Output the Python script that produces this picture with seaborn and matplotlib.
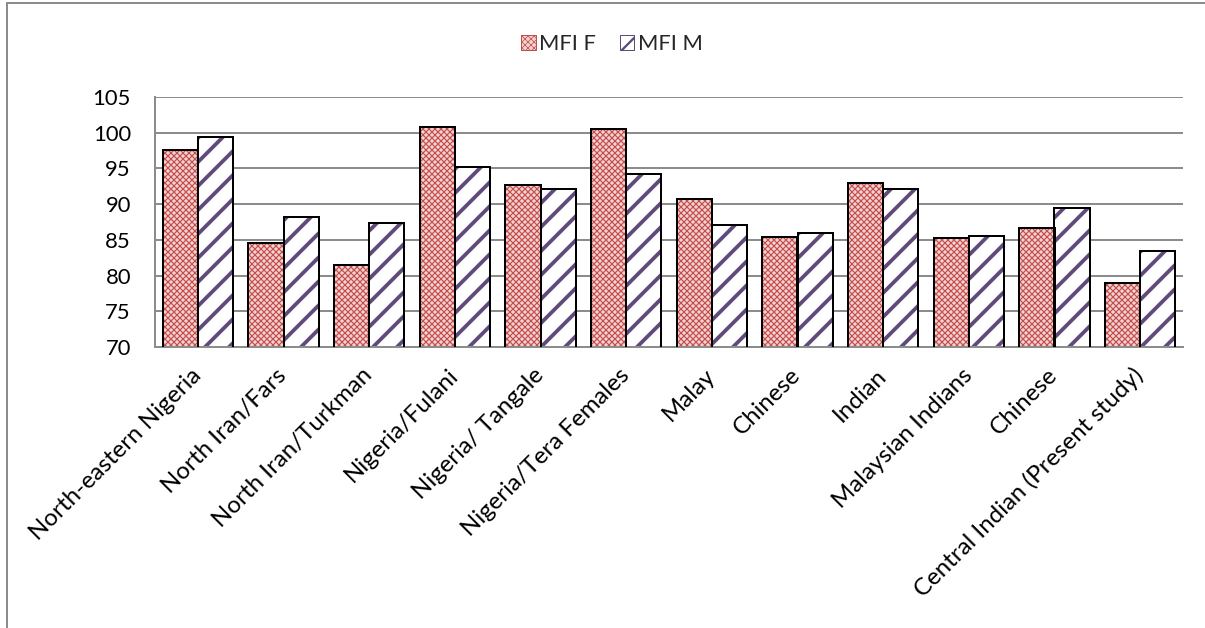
import matplotlib
matplotlib.use("Agg")
import matplotlib.pyplot as plt
from matplotlib.patches import Rectangle, Patch
from matplotlib.lines import Line2D
from matplotlib.ticker import MultipleLocator
import seaborn as sns
import pandas as pd

# Mean facial index by population
populations = [
    "North-eastern Nigeria", "North Iran/Fars", "North Iran/Turkman",
    "Nigeria/Fulani", "Nigeria/ Tangale", "Nigeria/Tera Females",
    "Malay", "Chinese", "Indian", "Malaysian Indians", "Chinese",
    "Central Indian (Present study)",
]
mfi_f = [97.6, 84.5, 81.5, 100.8, 92.7, 100.5, 90.7, 85.4, 92.9, 85.3, 86.6, 79.0]
mfi_m = [99.4, 88.2, 87.3, 95.2, 92.1, 94.2, 87.1, 85.9, 92.1, 85.5, 89.4, 83.5]
series = ["MFI F", "MFI M"]

F_FACE, F_HATCH = "#F6D3D2", "#C0504D"
M_FACE, M_HATCH = "#FFFFFF", "#604A7B"
GRID = "#8C8C8C"

df = pd.DataFrame({
    "idx": list(range(len(populations))) * 2,
    "value": mfi_f + mfi_m,
    "series": [series[0]] * len(mfi_f) + [series[1]] * len(mfi_m),
})

sns.set_style("white")
plt.rcParams["font.family"] = ["Lato", "DejaVu Sans"]
plt.rcParams["hatch.linewidth"] = 3.5

DPI = 72
fig = plt.figure(figsize=(1205 / DPI, 628 / DPI), dpi=DPI)
fig.patch.set_linewidth(0)
ax = fig.add_axes([155 / 1205, 1 - 347 / 628, (1183 - 155) / 1205, (347 - 97) / 628])

sns.barplot(data=df, x="idx", y="value", hue="series", hue_order=series,
            order=list(range(len(populations))), width=0.82, gap=0,
            legend=False, ax=ax)

# patterned fills: red checker for F, purple diagonal stripes for M
styles = [(F_FACE, F_HATCH, "xxxx", 1.2), (M_FACE, M_HATCH, "/", 3.8)]
for cont, (face, hcol, hatch, hlw) in zip(ax.containers, styles):
    for bar in cont:
        bar.set_facecolor(face)
        bar.set_edgecolor(hcol)
        bar.set_hatch(hatch)
        bar.set_linewidth(0)
        if hasattr(bar, "set_hatch_linewidth"):
            bar.set_hatch_linewidth(hlw)
        x, y = bar.get_xy()
        ax.add_patch(Rectangle((x, y), bar.get_width(), bar.get_height(),
                               fill=False, edgecolor="black", linewidth=2.0,
                               zorder=3))

ax.set_ylim(70, 105)
ax.set_xlim(-0.5, len(populations) - 0.5)
ax.yaxis.set_major_locator(MultipleLocator(5))
ax.yaxis.set_minor_locator(MultipleLocator(1))
ax.grid(axis="y", color=GRID, linewidth=2.0, zorder=0)
ax.set_axisbelow(True)
for side in ["top", "right"]:
    ax.spines[side].set_visible(False)
for side in ["left", "bottom"]:
    ax.spines[side].set_color(GRID)
    ax.spines[side].set_linewidth(2.0)

ax.tick_params(axis="y", which="major", direction="in", length=5, width=1.5,
               color=GRID, pad=24, labelsize=22, labelcolor="black")
ax.tick_params(axis="y", which="minor", direction="in", length=5, width=1.5,
               color=GRID)
ax.tick_params(axis="x", length=0, pad=25, labelsize=24, labelcolor="black")
ax.set_xticks(range(len(populations)))
ax.set_xticklabels(populations, rotation=45, ha="right", va="center",
                   rotation_mode="anchor")
ax.set_xlabel("")
ax.set_ylabel("")

handles = [
    Patch(facecolor=F_FACE, edgecolor=F_HATCH, hatch="xxxx", label=series[0]),
    Patch(facecolor=M_FACE, edgecolor=M_HATCH, hatch="/", label=series[1]),
]
leg = fig.legend(handles=handles, loc="center", ncol=2, frameon=False,
                 bbox_to_anchor=(612 / 1205, 1 - 44 / 628), fontsize=22,
                 handlelength=0.65, handleheight=0.65, handletextpad=0.15,
                 columnspacing=1.1)
for patch, (face, hcol, hatch, hlw) in zip(leg.get_patches(), styles):
    if hasattr(patch, "set_hatch_linewidth"):
        patch.set_hatch_linewidth(hlw * 0.6)

# frame lines along the left and top of the figure
fig.add_artist(Line2D([7 / 1205, 7 / 1205], [0, 1 - 3 / 628],
                      transform=fig.transFigure, color="#8C8C8C", linewidth=2))
fig.add_artist(Line2D([7 / 1205, 1], [1 - 3 / 628, 1 - 3 / 628],
                      transform=fig.transFigure, color="#8C8C8C", linewidth=2))

fig.savefig("out.png", dpi=DPI, facecolor="white")
